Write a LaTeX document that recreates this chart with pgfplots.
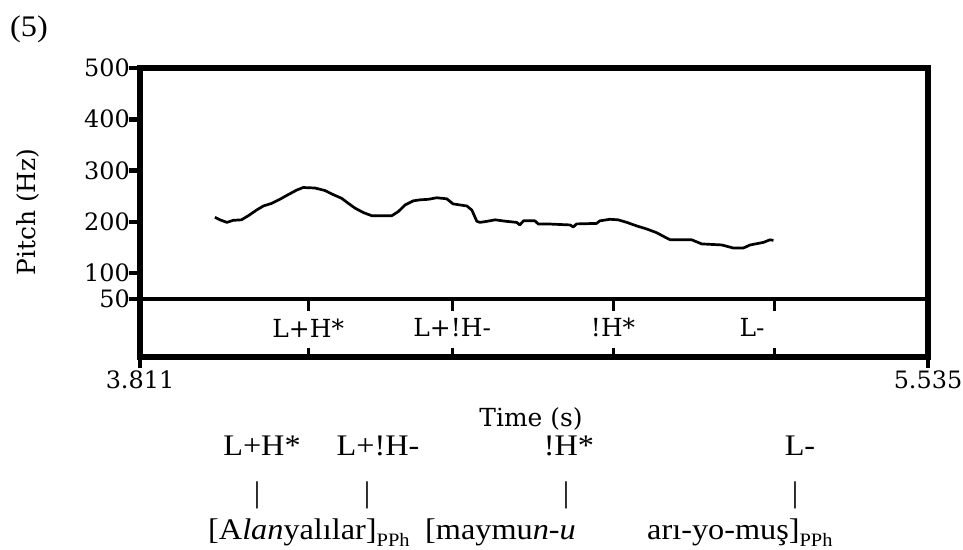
\documentclass[border=0pt]{standalone}
\usepackage{fontspec}
\usepackage{pgfplots}
\pgfplotsset{compat=1.18}
\setmainfont{Liberation Serif}[FakeStretch=1.08]
\newfontfamily\praat{DejaVu Serif}
\newcommand\tickfont{\praat\fontsize{24}{28}\selectfont}
\newcommand\labfont{\praat\fontsize{25}{30}\selectfont}
\newcommand\annfont{\fontsize{30}{34}\selectfont}
\newcommand\sub[1]{\raisebox{-7bp}{\fontsize{19}{20}\selectfont #1}}
\begin{document}
\begin{tikzpicture}
\path[use as bounding box] (0,0) rectangle (963bp,-550bp);
\begin{axis}[
  at={(140bp,-357bp)}, anchor=south west,
  scale only axis, width=788bp, height=289bp,
  xmin=3.811, xmax=5.535, ymin=-63.5, ymax=500,
  axis line style={line width=6.5bp, black},
  ytick={50,100,200,300,400,500},
  yticklabels={50,100,200,300,400,500},
  xtick={3.811,5.535},
  xticklabels={3.811,5.535},
  tick align=outside, ytick pos=left, xtick pos=bottom,
  major tick length=11bp,
  tick style={line width=4.5bp, black},
  /pgf/number format/assume math mode=true,
  yticklabel style={font=\tickfont, inner sep=0pt, anchor=east, xshift=1bp},
  xticklabel style={font=\tickfont, inner sep=0pt, anchor=north, yshift=-3bp},
]
% boundary between pitch panel and tier
\addplot[black, line width=3.5bp, forget plot] coordinates {(3.811,50) (5.535,50)};
% pitch contour
\addplot[black, line width=2.7bp, line join=round, no markers] coordinates {
(3.975,209) (3.986,204) (4.001,199) (4.015,203) (4.033,204) (4.048,212)
(4.066,223) (4.081,231) (4.099,236) (4.117,244) (4.135,253) (4.154,262)
(4.168,267) (4.194,266) (4.216,261) (4.234,253) (4.252,246) (4.267,236)
(4.281,227) (4.300,218) (4.318,212) (4.362,212) (4.376,220) (4.391,233)
(4.409,241) (4.424,243) (4.442,244) (4.460,247) (4.482,245) (4.496,235)
(4.526,231) (4.537,223) (4.548,201) (4.555,199) (4.570,201) (4.588,204)
(4.613,201) (4.635,199) (4.642,194) (4.650,202) (4.675,202) (4.682,196)
(4.701,196) (4.752,194) (4.759,190) (4.766,196) (4.810,197) (4.817,202)
(4.839,205) (4.857,204) (4.876,199) (4.898,192) (4.920,186) (4.941,179)
(4.960,170) (4.971,165) (5.018,165) (5.040,157) (5.084,155) (5.109,149)
(5.131,149) (5.146,155) (5.175,160) (5.189,165) (5.197,164)
};
% tier point ticks
\foreach \t in {4.179,4.494,4.846,5.200}{
  \edef\tmp{\noexpand\draw[line width=3bp, black] (axis cs:\t,50) -- (axis cs:\t,27);
            \noexpand\draw[line width=3bp, black] (axis cs:\t,-45) -- (axis cs:\t,-63.5);}
  \tmp
}
\node[font=\labfont, inner sep=0pt] at (axis cs:4.179,-6.6) {L+H*};
\node[font=\labfont, inner sep=0pt] at (axis cs:4.494,-6.6) {L+!H-};
\node[font=\labfont, inner sep=0pt] at (axis cs:4.846,-6.6) {!H*};
\node[font=\labfont, inner sep=0pt] at (axis cs:5.150,-6.6) {L-};
% heavy frame
\draw[line width=6.5bp, black, line join=miter] (rel axis cs:0,0) rectangle (rel axis cs:1,1);
\end{axis}
\begin{scope}[x=1bp, y=-1bp]
\node[anchor=base west, inner sep=0pt, font=\annfont] at (10,36) {(5)};
\node[rotate=90, inner sep=0pt, font=\labfont] at (28,212) {Pitch (Hz)};
\node[inner sep=0pt, font=\labfont] at (531,419) {Time (s)};
\node[anchor=base, inner sep=0pt, font=\annfont] at (262,455) {L+H*};
\node[anchor=base, inner sep=0pt, font=\annfont] at (378,455) {L+!H-};
\node[anchor=base, inner sep=0pt, font=\annfont] at (569,455) {!H*};
\node[anchor=base, inner sep=0pt, font=\annfont] at (800,455) {L-};
\foreach \bx in {257,367,566,795}{
  \node[inner sep=0pt, font=\annfont] at (\bx,495.5) {|};
}
\node[anchor=base west, inner sep=0pt, font=\annfont] at (208,539) {[A\textit{lan}yalılar]\sub{PPh}};
\node[anchor=base west, inner sep=0pt, font=\annfont] at (425,539) {[maymu\textit{n-u}};
\node[anchor=base west, inner sep=0pt, font=\annfont] at (647,539) {arı-yo-muş]\sub{PPh}};
\end{scope}
\end{tikzpicture}
\end{document}
